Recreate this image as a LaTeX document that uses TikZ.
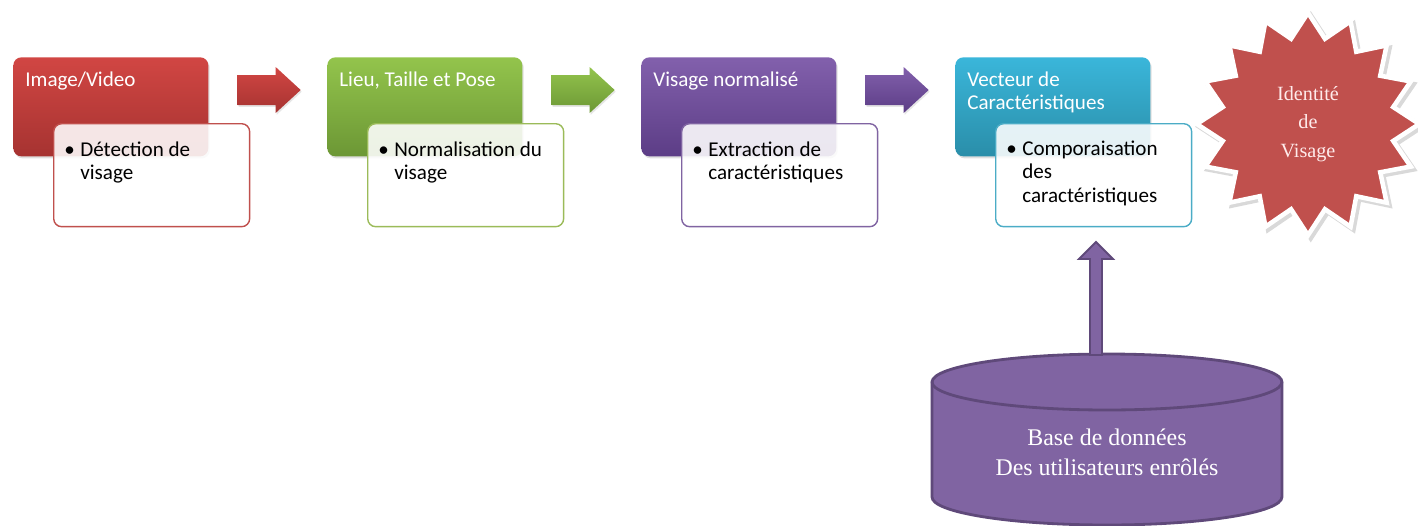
\documentclass[tikz,border=0pt]{standalone}
\usepackage{fontspec}
\setmainfont{Carlito}
\newfontfamily\serifrm{Liberation Serif}
\usetikzlibrary{shapes.geometric,shadows,positioning}

\definecolor{redA}{HTML}{D14643}
\definecolor{redB}{HTML}{A63331}
\definecolor{redline}{HTML}{C0504D}
\definecolor{greenA}{HTML}{93C44C}
\definecolor{greenB}{HTML}{6C9735}
\definecolor{greenline}{HTML}{9BBB59}
\definecolor{purpA}{HTML}{8260AC}
\definecolor{purpB}{HTML}{5C3D86}
\definecolor{purpline}{HTML}{8064A2}
\definecolor{blueA}{HTML}{3AB6DA}
\definecolor{blueB}{HTML}{2A8EA9}
\definecolor{blueline}{HTML}{4BACC6}
\definecolor{dbfill}{HTML}{8064A2}
\definecolor{dbline}{HTML}{5F497A}
\definecolor{starred}{HTML}{C0504D}

\begin{document}
\begin{tikzpicture}[x=0.02cm, y=-0.02cm,
  stage/.style={rectangle, rounded corners=0.16cm, minimum width=3.9cm, minimum height=1.98cm,
    anchor=north west, inner sep=0, drop shadow={opacity=0.25, shadow xshift=0.8pt, shadow yshift=-1.2pt}},
  detail/.style={rectangle, rounded corners=0.16cm, draw, line width=0.8pt, fill=white,
    fill opacity=0.88, text opacity=1, minimum width=3.92cm, minimum height=2.06cm, anchor=north west},
  title/.style={anchor=base west, inner sep=0, text=white, font=\fontsize{12}{13.6}\selectfont},
  item/.style={anchor=base west, inner sep=0, font=\fontsize{12}{13.5}\selectfont},
  flow/.style={drop shadow={opacity=0.2, shadow xshift=0.6pt, shadow yshift=-1pt}},
  dbshape/.style={fill=dbfill, draw=dbline, line width=1.6pt}]

  \useasboundingbox (0,0) rectangle (1418,525);

  % etape 1
  \node[stage, top color=redA, bottom color=redB] (img) at (13,57) {};
  \node[title] (imgt) at ([shift={(12,29)}]img.north west) {Image/Video};
  \node[detail, draw=redline] (det) at (53,123) {};
  \node[item] (dett) at ([shift={(11,33)}]det.north west)
    {\begin{tabular}[t]{@{}l@{}}\makebox[0.32cm][l]{\textbullet}Détection de\\\hspace*{0.32cm}visage\end{tabular}};

  % etape 2
  \node[stage, top color=greenA, bottom color=greenB] (pose) at (327,57) {};
  \node[title] (poset) at ([shift={(12,29)}]pose.north west) {Lieu, Taille et Pose};
  \node[detail, draw=greenline] (norm) at (367,123) {};
  \node[item] (normt) at ([shift={(11,33)}]norm.north west)
    {\begin{tabular}[t]{@{}l@{}}\makebox[0.32cm][l]{\textbullet}Normalisation du\\\hspace*{0.32cm}visage\end{tabular}};

  % etape 3
  \node[stage, top color=purpA, bottom color=purpB] (vis) at (641,57) {};
  \node[title] (vist) at ([shift={(12,29)}]vis.north west) {Visage normalisé};
  \node[detail, draw=purpline] (extr) at (681,123) {};
  \node[item] (extrt) at ([shift={(11,33)}]extr.north west)
    {\begin{tabular}[t]{@{}l@{}}\makebox[0.32cm][l]{\textbullet}Extraction de\\\hspace*{0.32cm}caractéristiques\end{tabular}};

  % etape 4
  \node[stage, top color=blueA, bottom color=blueB] (vect) at (955,57) {};
  \node[title] (vectt) at ([shift={(12,29)}]vect.north west)
    {\begin{tabular}[t]{@{}l@{}}Vecteur de\\Caractéristiques\end{tabular}};
  \node[detail, draw=blueline] (comp) at (995,123) {};
  \node[item] (compt) at ([shift={(11,32)}]comp.north west)
    {\begin{tabular}[t]{@{}l@{}}\makebox[0.32cm][l]{\textbullet}Comporaisation\\\hspace*{0.32cm}des\\\hspace*{0.32cm}caractéristiques\end{tabular}};

  % fleches
  \path[flow, top color=redA, bottom color=redB] ([shift={(29,18)}]img.north east) -- ++(38,0) -- ++(0,-8)
    -- ++(25,23) -- ++(-25,23) -- ++(0,-8) -- ++(-38,0) -- cycle;
  \path[flow, top color=greenA, bottom color=greenB] ([shift={(29,18)}]pose.north east) -- ++(38,0) -- ++(0,-8)
    -- ++(25,23) -- ++(-25,23) -- ++(0,-8) -- ++(-38,0) -- cycle;
  \path[flow, top color=purpA, bottom color=purpB] ([shift={(29,18)}]vis.north east) -- ++(38,0) -- ++(0,-8)
    -- ++(25,23) -- ++(-25,23) -- ++(0,-8) -- ++(-38,0) -- cycle;

  % identite
  \node[star, star points=16, star point ratio=1.28, minimum size=4.45cm, inner sep=0,
    fill=starred, draw=white, line width=2.6pt,
    drop shadow={opacity=0.3, shadow scale=1.04, shadow xshift=1.5pt, shadow yshift=-1.5pt},
    align=center, text=red!8, font=\serifrm\fontsize{11.5}{16.4}\selectfont] (id) at (1308,124) {Identité\\de\\Visage};

  % base de donnees
  \filldraw[dbshape] (932,382) -- (932,497) arc[start angle=180, end angle=360, x radius=3.5cm, y radius=0.56cm]
    -- (1282,382) arc[start angle=0, end angle=180, x radius=3.5cm, y radius=0.56cm] -- cycle;
  \draw[dbshape, fill=none] (932,382) arc[start angle=180, end angle=360, x radius=3.5cm, y radius=0.56cm];
  \node[align=center, text=white, font=\serifrm\fontsize{13.6}{17}\selectfont] (db) at (1107,452) {Base de données\\Des utilisateurs enrôlés};
  \coordinate (dbtop) at (1096,355);
  \filldraw[fill=dbfill, draw=dbline, line width=1.1pt] ([shift={(-6,0)}]dbtop) -- ++(0,-96) -- ++(-11,0)
    -- ++(17,-17) -- ++(17,17) -- ++(-11,0) -- ++(0,96) -- cycle;
\end{tikzpicture}
\end{document}
